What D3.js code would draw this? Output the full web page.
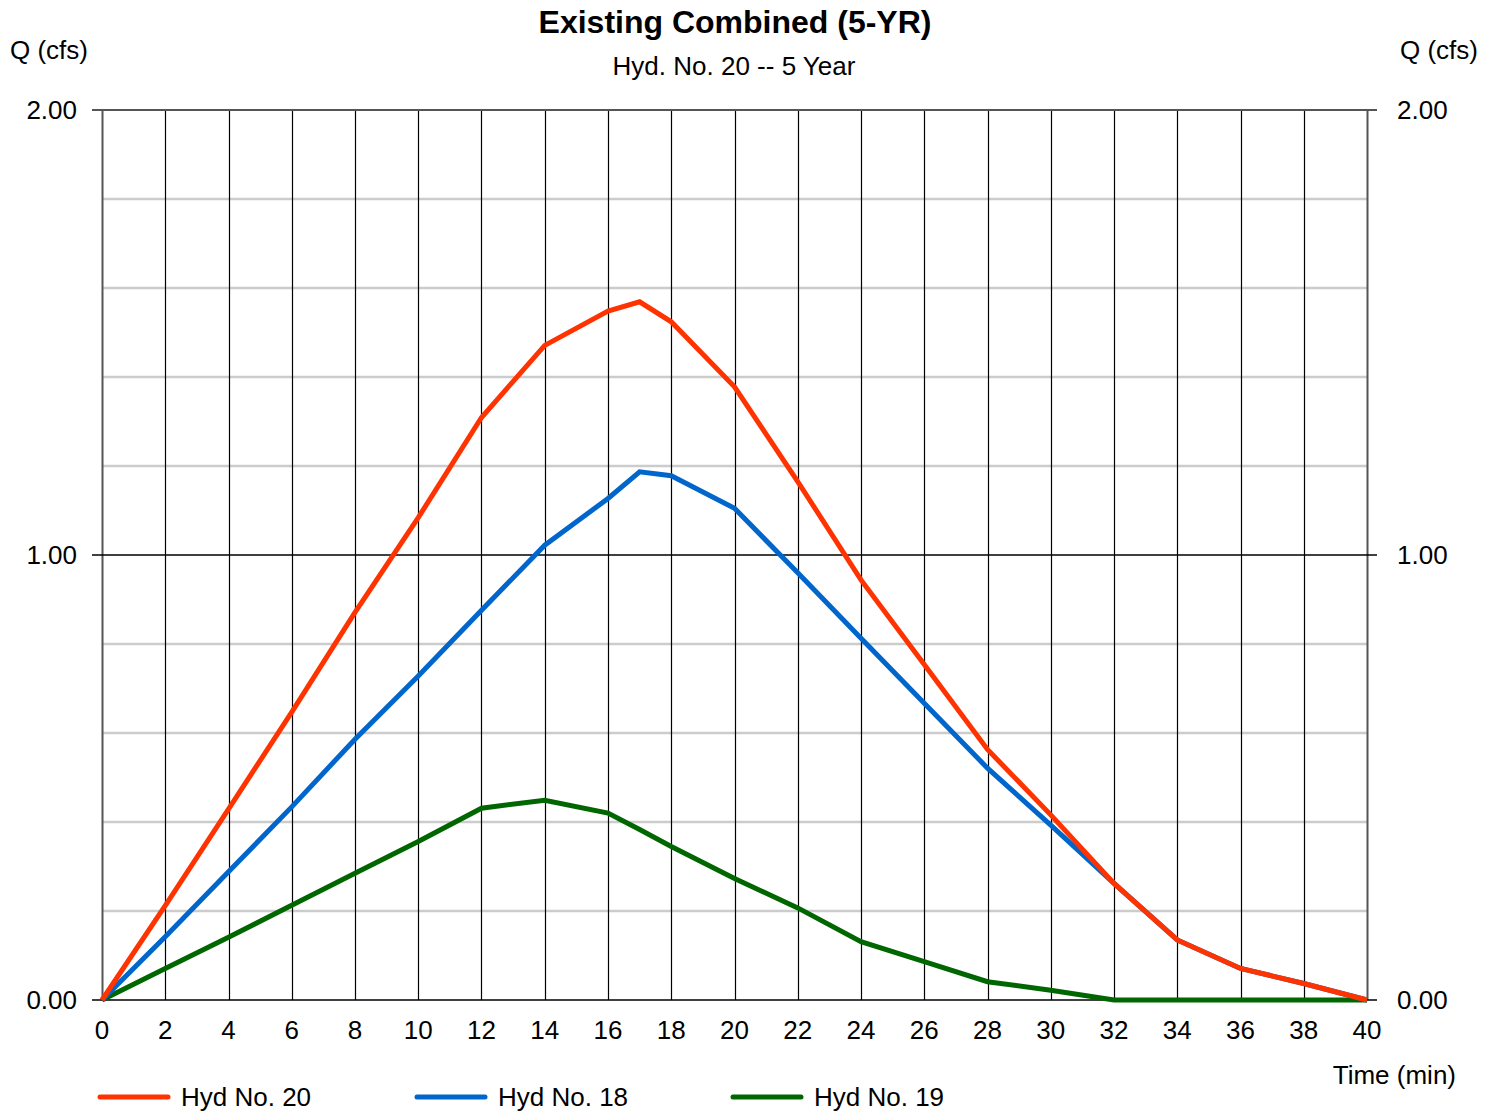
<!DOCTYPE html>
<html><head><meta charset="utf-8">
<script src="https://cdn.jsdelivr.net/npm/d3@7"></script>
<style>
html,body{margin:0;padding:0;background:#fff;}
svg text{font-family:"Liberation Sans",Arial,sans-serif;fill:#000;}
</style></head>
<body><svg id="c" width="1496" height="1112"></svg>
<script>
const times = [0,2,4,6,8,10,12,14,16,17,18,20,22,24,26,28,30,32,34,36,38,40];
const hyd20 = [0,0.212,0.429,0.647,0.871,1.084,1.309,1.471,1.548,1.569,1.524,1.378,1.165,0.944,0.754,0.563,0.416,0.262,0.135,0.071,0.037,0];
const hyd18 = [0,0.142,0.288,0.434,0.586,0.728,0.876,1.022,1.127,1.187,1.178,1.105,0.960,0.813,0.667,0.521,0.393,0.262,0.135,0.071,0.037,0];
const hyd19 = [0,0.071,0.141,0.213,0.285,0.356,0.431,0.449,0.420,0.383,0.345,0.273,0.207,0.131,0.086,0.041,0.022,0,0,0,0,0];
const seriesNames = ["Hyd No. 20","Hyd No. 18","Hyd No. 19"];
const seriesColors = ["#ff3300","#0066cc","#006600"];
const xTicks = d3.range(0,41,2);
const yTicks = [0,1,2];
const yMinor = d3.range(0,2.001,0.2);

const svg = d3.select("#c");
const L=102,R=1367,T=110,B=1000;
const x = d3.scaleLinear().domain([0,40]).range([L,R]);
const y = d3.scaleLinear().domain([0,2]).range([B,T]);

// minor horizontal grid
svg.append("g").selectAll("line").data(yMinor.filter(v=>Math.abs(v-1)>1e-6 && v>1e-6 && v<1.999))
 .join("line").attr("x1",L).attr("x2",R).attr("y1",d=>Math.round(y(d))).attr("y2",d=>Math.round(y(d)))
 .attr("stroke","#cccccc").attr("stroke-width",2.5);
// vertical grid
svg.append("g").selectAll("line").data(xTicks)
 .join("line").attr("x1",d=>Math.round(x(d))+0.5).attr("x2",d=>Math.round(x(d))+0.5).attr("y1",T).attr("y2",B)
 .attr("stroke",d=>(d===0||d===40)?"#555":"#000").attr("stroke-width",d=>(d===0||d===40)?2:1.2);
// major horizontal lines with ticks
svg.append("g").selectAll("line").data(yTicks)
 .join("line").attr("x1",L-10).attr("x2",R+10).attr("y1",d=>y(d)).attr("y2",d=>y(d))
 .attr("stroke",d=>d===2?"#555":"#000").attr("stroke-width",d=>d===2?2:1.6);

// y labels
const fmt = d3.format(".2f");
svg.append("g").selectAll("text").data(yTicks).join("text")
 .attr("x",77).attr("y",d=>y(d)+9).attr("text-anchor","end").attr("font-size",26).text(fmt);
svg.append("g").selectAll("text").data(yTicks).join("text")
 .attr("x",1397).attr("y",d=>y(d)+9).attr("text-anchor","start").attr("font-size",26).text(fmt);
// x labels
svg.append("g").selectAll("text").data(xTicks).join("text")
 .attr("x",d=>x(d)).attr("y",1039).attr("text-anchor","middle").attr("font-size",26).text(d=>d);

// lines
const data = [hyd20,hyd18,hyd19];
const line = d3.line().x((d,i)=>x(times[i])).y(d=>y(d));
[2,1,0].forEach(k=>{
  svg.append("path").datum(data[k]).attr("d",line).attr("fill","none")
   .attr("stroke",seriesColors[k]).attr("stroke-width",5).attr("stroke-linejoin","miter");
});

// titles
svg.append("text").attr("x",735).attr("y",33).attr("text-anchor","middle")
 .attr("font-size",32).attr("font-weight","bold").text("Existing Combined (5-YR)");
svg.append("text").attr("x",734).attr("y",75).attr("text-anchor","middle")
 .attr("font-size",26).text("Hyd. No. 20 -- 5 Year");
svg.append("text").attr("x",10).attr("y",59).attr("font-size",26).text("Q (cfs)");
svg.append("text").attr("x",1478).attr("y",59).attr("text-anchor","end").attr("font-size",26).text("Q (cfs)");
svg.append("text").attr("x",1456).attr("y",1084).attr("text-anchor","end").attr("font-size",26).text("Time (min)");

// legend
const lx=[100,417,733];
seriesNames.forEach((n,k)=>{
  svg.append("line").attr("x1",lx[k]).attr("x2",lx[k]+68).attr("y1",1097).attr("y2",1097)
   .attr("stroke",seriesColors[k]).attr("stroke-width",5).attr("stroke-linecap","round");
  svg.append("text").attr("x",lx[k]+81).attr("y",1106).attr("font-size",26).text(n);
});
</script></body></html>
